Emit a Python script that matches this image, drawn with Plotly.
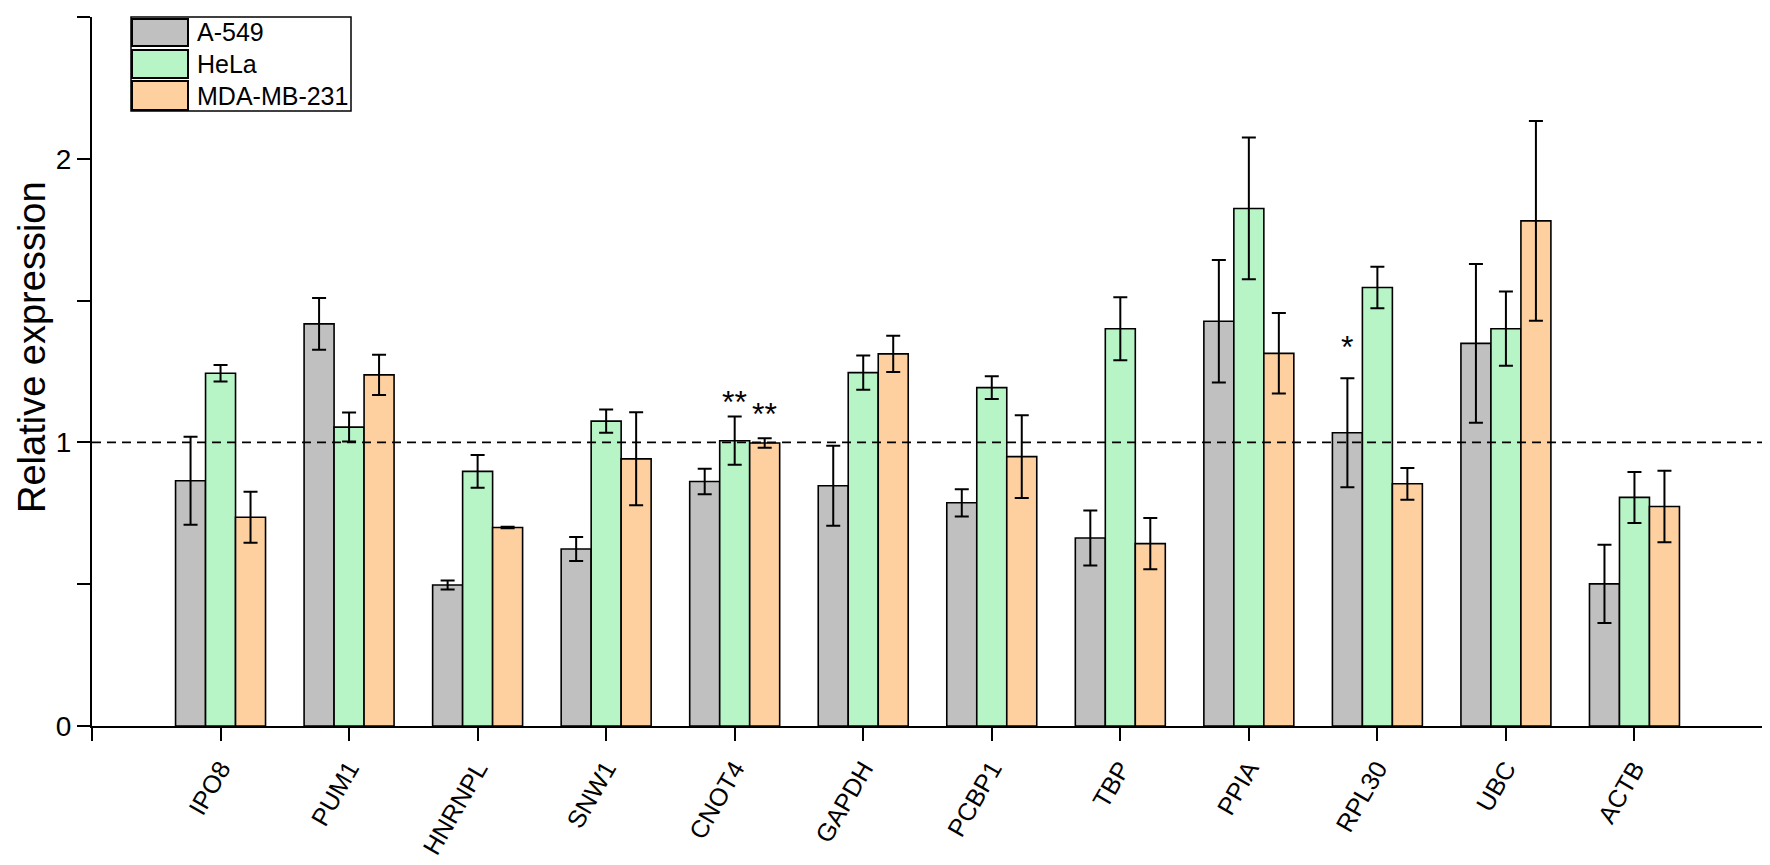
import plotly.graph_objects as go

genes = ["IPO8", "PUM1", "HNRNPL", "SNW1", "CNOT4", "GAPDH",
         "PCBP1", "TBP", "PPIA", "RPL30", "UBC", "ACTB"]
series_names = ["A-549", "HeLa", "MDA-MB-231"]
a549 = [0.865, 1.418, 0.497, 0.624, 0.862, 0.847, 0.787, 0.663, 1.427, 1.034, 1.349, 0.501]
a549_err = [0.155, 0.091, 0.016, 0.042, 0.045, 0.141, 0.048, 0.097, 0.216, 0.192, 0.280, 0.138]
hela = [1.244, 1.054, 0.898, 1.075, 1.006, 1.246, 1.193, 1.401, 1.825, 1.546, 1.401, 0.806]
hela_err = [0.029, 0.051, 0.058, 0.041, 0.085, 0.060, 0.040, 0.111, 0.250, 0.073, 0.131, 0.090]
mda = [0.736, 1.238, 0.700, 0.942, 0.998, 1.312, 0.950, 0.643, 1.314, 0.854, 1.781, 0.774]
mda_err = [0.090, 0.071, 0.003, 0.164, 0.017, 0.064, 0.146, 0.090, 0.142, 0.056, 0.352, 0.126]
# significance marks: (gene index, series index, text, pixel shift)
sig_marks = [(4, 1, "**", -5), (4, 2, "**", 4), (9, 0, "*", 11)]
y_ticks = [0, 1, 2]
y_title = "Relative expression"

colors = ["#C0C0C0", "#B7F5C7", "#FED0A0"]
values = [a549, hela, mda]
errors = [a549_err, hela_err, mda_err]
FONT = "Liberation Sans, Arial, sans-serif"
bargap = 0.3
xpos = list(range(len(genes)))

fig = go.Figure()
for name, col, v, e in zip(series_names, colors, values, errors):
    fig.add_trace(go.Bar(
        x=xpos, y=v, name=name,
        marker=dict(color=col, line=dict(color="black", width=1.6)),
        error_y=dict(type="data", array=e, visible=True, color="black",
                     thickness=2, width=7),
        showlegend=False,
    ))

W, H = 1770, 865
L, R, T, B = 84, 15, 9, 147
pw, ph = W - L - R, H - T - B

fig.update_layout(
    width=W, height=H,
    margin=dict(l=L, r=R, t=T, b=B, autoexpand=False),
    paper_bgcolor="white", plot_bgcolor="white",
    barmode="group", bargap=bargap, bargroupgap=0,
    font=dict(family=FONT, color="black"),
    xaxis=dict(
        range=[-1, len(genes)],
        automargin=False,
        tickmode="array",
        tickvals=[-1] + xpos + [len(genes)],
        ticktext=[""] + genes + [""],
        tickangle=-60,
        ticklabelstandoff=3,
        tickfont=dict(size=25, family=FONT, color="black"),
        ticks="outside", ticklen=13, tickwidth=2, tickcolor="black",
        showline=True, linecolor="black", linewidth=2,
        showgrid=False, zeroline=False,
    ),
    yaxis=dict(
        range=[0, 2.5],
        automargin=False,
        tickmode="array", tickvals=y_ticks,
        ticktext=[str(t) for t in y_ticks],
        tickfont=dict(size=28, family=FONT, color="black"),
        ticks="outside", ticklen=13, tickwidth=2, tickcolor="black",
        minor=dict(dtick=0.5, ticks="outside", ticklen=13, tickwidth=2, tickcolor="black", showgrid=False),
        showline=True, linecolor="black", linewidth=2,
        showgrid=False, zeroline=False,
    ),
)

# reference line at 1
fig.add_shape(type="line", xref="paper", yref="y", x0=0, x1=1, y0=1, y1=1,
              line=dict(color="black", width=1.8, dash="9px,6px"), layer="above")

# significance annotations
bw = (1 - bargap) / len(series_names)
for gi, si, txt, sh in sig_marks:
    xo = gi + (si - (len(series_names) - 1) / 2) * bw
    ytop = values[si][gi] + errors[si][gi]
    fig.add_annotation(x=xo, y=ytop, xref="x", yref="y", text=txt, showarrow=False,
                       yanchor="bottom", yshift=sh, font=dict(size=32, family=FONT, color="black"))

# pixel layout -> paper coords
def px(x):
    return (x - L) / pw

def py(y):
    return (H - B - y) / ph

# y-axis title
fig.add_annotation(xref="paper", yref="paper", x=px(24), y=py(339), text=y_title, textangle=-90,
                   showarrow=False, xanchor="center", yanchor="middle",
                   font=dict(size=38, family=FONT, color="black"))

# custom legend
fig.add_shape(type="rect", xref="paper", yref="paper", x0=px(123), x1=px(343), y0=py(103), y1=py(9),
              line=dict(color="black", width=1.5), fillcolor="white", layer="above")
rows = [(11, 38), (42, 70), (73, 102)]
for (y0, y1), name, col in zip(rows, series_names, colors):
    fig.add_shape(type="rect", xref="paper", yref="paper", x0=px(124), x1=px(180), y0=py(y1), y1=py(y0),
                  line=dict(color="black", width=2), fillcolor=col, layer="above")
    fig.add_annotation(xref="paper", yref="paper", x=px(187), y=py((y0 + y1) / 2), text=name,
                       showarrow=False, xanchor="left", yanchor="middle",
                       font=dict(size=25, family=FONT, color="black"))

fig.write_html("out.html")
